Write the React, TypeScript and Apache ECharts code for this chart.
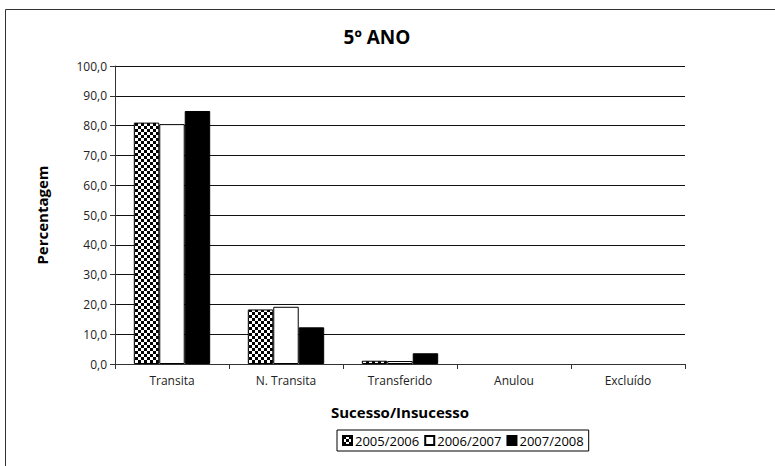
import React, { useEffect, useRef } from "react";
import * as echarts from "echarts";

const categories = ["Transita", "N. Transita", "Transferido", "Anulou", "Excluído"];
const seriesNames = ["2005/2006", "2006/2007", "2007/2008"];
const values2005 = [81.0, 18.3, 1.1, 0, 0];
const values2006 = [80.5, 19.2, 1.0, 0, 0];
const values2007 = [84.9, 12.3, 3.6, 0, 0];

function makeChecker(): any {
  const c = document.createElement("canvas");
  c.width = 6;
  c.height = 6;
  const ctx = c.getContext("2d")!;
  ctx.fillStyle = "#ffffff";
  ctx.fillRect(0, 0, 6, 6);
  ctx.fillStyle = "#000000";
  ctx.fillRect(0, 0, 3, 3);
  ctx.fillRect(3, 3, 3, 3);
  return { image: c, repeat: "repeat" };
}

function toData(vals: number[]) {
  return vals.map((v) =>
    v === 0 ? { value: v, itemStyle: { borderWidth: 0, opacity: 0 } } : v
  );
}

export default function App() {
  const ref = useRef<HTMLDivElement>(null);
  useEffect(() => {
    if (!ref.current) return;
    const chart = echarts.init(ref.current, null, { renderer: "svg" });
    const font = "'Open Sans', Lato, sans-serif";
    chart.setOption({
      animation: false,
      backgroundColor: "#ffffff",
      title: {
        text: "5º ANO",
        left: 372,
        top: 22,
        textAlign: "center",
        textStyle: { fontFamily: font, fontSize: 19, fontWeight: "bold", color: "#000" },
      },
      graphic: [
        {
          type: "rect",
          shape: { x: 5.5, y: 9.5, width: 900, height: 600 },
          style: { fill: "none", stroke: "#333", lineWidth: 1 },
          silent: true,
        },
      ],
      legend: {
        bottom: 15,
        left: 337,
        icon: "rect",
        itemWidth: 9,
        itemHeight: 9,
        itemGap: 5,
        padding: [4, 5, 4, 5],
        borderColor: "#000",
        borderWidth: 1,
        textStyle: { fontFamily: font, fontSize: 13, color: "#000", padding: [0, 0, 0, -2] },
        data: seriesNames,
      },
      grid: { left: 115, right: 90, top: 66, bottom: 102 },
      xAxis: {
        type: "category",
        data: categories,
        name: "Sucesso/Insucesso",
        nameLocation: "middle",
        nameGap: 40,
        nameTextStyle: { fontFamily: font, fontSize: 15, fontWeight: "bold", color: "#000" },
        axisLine: { lineStyle: { color: "#333" } },
        axisTick: { show: true, alignWithLabel: false, length: 5, lineStyle: { color: "#333" } },
        axisLabel: { fontFamily: font, fontSize: 12, color: "#222", margin: 10 },
      },
      yAxis: {
        type: "value",
        min: 0,
        max: 100,
        interval: 10,
        name: "Percentagem",
        nameLocation: "middle",
        nameGap: 66,
        nameTextStyle: { fontFamily: font, fontSize: 15, fontWeight: "bold", color: "#000" },
        axisLine: { show: true, lineStyle: { color: "#333" } },
        axisTick: { show: true, length: 5, lineStyle: { color: "#333" } },
        axisLabel: {
          fontFamily: font,
          fontSize: 12,
          color: "#222",
          formatter: (v: number) => v.toFixed(1).replace(".", ","),
        },
        splitLine: { lineStyle: { color: "#111", width: 1 } },
      },
      series: [
        {
          name: seriesNames[0],
          type: "bar",
          data: toData(values2005),
          barGap: "0%",
          barCategoryGap: "33%",
          itemStyle: { color: makeChecker(), borderColor: "#000", borderWidth: 1 },
        },
        {
          name: seriesNames[1],
          type: "bar",
          data: toData(values2006),
          itemStyle: { color: "#ffffff", borderColor: "#000", borderWidth: 1 },
        },
        {
          name: seriesNames[2],
          type: "bar",
          data: toData(values2007),
          itemStyle: { color: "#000000", borderColor: "#000", borderWidth: 1 },
        },
      ],
    });
    return () => chart.dispose();
  }, []);
  return (
    <div
      ref={ref}
      style={{ position: "absolute", left: 0, top: 0, width: 775, height: 466 }}
    />
  );
}
